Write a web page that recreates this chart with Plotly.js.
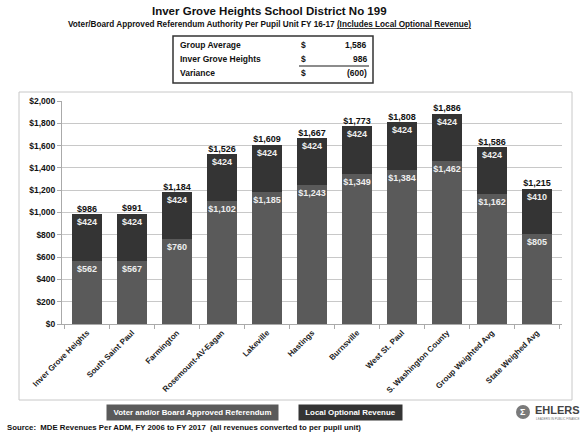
<!DOCTYPE html>
<html><head><meta charset="utf-8">
<script src="https://cdn.plot.ly/plotly-3.0.1.min.js"></script>
<style>html,body{margin:0;padding:0;background:#fff}#chart{width:584px;height:433px}</style>
</head><body><div id="chart"></div>
<script>
var categories = ["Inver Grove Heights","South Saint Paul","Farmington","Rosemount-AV-Eagan","Lakeville","Hastings","Burnsville","West St. Paul","S. Washington County","Group Weighted Avg","State Weighed Avg"];
var referendum = [562,567,760,1102,1185,1243,1349,1384,1462,1162,805];
var localOptional = [424,424,424,424,424,424,424,424,424,424,410];
var seriesNames = ["Voter and/or Board Approved Referendum","Local Optional Revenue"];
var tableLabels = ["Group Average","Inver Grove Heights","Variance"];
var tableValues = ["1,586","986","(600)"];
var yTicks = [0,200,400,600,800,1000,1200,1400,1600,1800,2000];

var W=584,H=433,L=62,R=22,T=101,B=109;
var PW=W-L-R, PH=H-T-B;
function px(x){return (x-L)/PW;}
function py(y){return (H-B-y)/PH;}
var totals = referendum.map(function(v,i){return v+localOptional[i];});
function money(v){return '$'+v.toLocaleString('en-US');}

var FONT='Arial, Liberation Sans, sans-serif';
var C1='#5a5a5a', C2='#343434';

var traces=[
 {type:'bar',name:seriesNames[0],x:categories,y:referendum,marker:{color:C1},
  text:referendum.map(money),textposition:'inside',insidetextanchor:'end',textangle:0,constraintext:'none',
  insidetextfont:{family:FONT,size:9,color:'#eeeeee',weight:700},hoverinfo:'none'},
 {type:'bar',name:seriesNames[1],x:categories,y:localOptional,marker:{color:C2},
  text:localOptional.map(money),textposition:'inside',insidetextanchor:'end',textangle:0,constraintext:'none',
  insidetextfont:{family:FONT,size:9,color:'#eeeeee',weight:700},hoverinfo:'none'},
 {type:'scatter',mode:'text',x:categories,y:totals,text:totals.map(money),textposition:'top center',
  textfont:{family:FONT,size:9,color:'#111',weight:700},hoverinfo:'none',showlegend:false,cliponaxis:false}
];

var shapes=[
 {type:'rect',xref:'paper',yref:'paper',x0:px(19),x1:px(572),y0:py(92),y1:py(400),line:{color:'#c8c8c8',width:1},layer:'below'},
 {type:'rect',xref:'paper',yref:'paper',x0:px(173),x1:px(373),y0:py(36),y1:py(83),line:{color:'#333',width:1.5}},
 {type:'line',xref:'paper',yref:'paper',x0:px(299),x1:px(369),y0:py(66),y1:py(66),line:{color:'#666',width:1.5}},
 {type:'circle',xref:'paper',yref:'paper',x0:px(516),x1:px(530),y0:py(405),y1:py(419),fillcolor:'#7a7a7a',line:{width:0}}
];

function ann(text,x,y,xa,font,extra){
 var a={text:text,xref:'paper',yref:'paper',x:px(x),y:py(y),xanchor:xa,yanchor:'middle',showarrow:false,font:font};
 if(extra){for(var k in extra){a[k]=extra[k];}}
 return a;
}
var annotations=[
 ann('Inver Grove Heights School District No 199',269,11,'center',{family:FONT,size:11.5,color:'#111',weight:700}),
 ann('Voter/Board Approved Referendum Authority Per Pupil Unit FY 16-17 <u>(Includes Local Optional Revenue)</u>',269,25,'center',{family:FONT,size:8.2,color:'#111',weight:700}),
 ann('Source:  MDE Revenues Per ADM, FY 2006 to FY 2017  (all revenues converted to per pupil unit)',5,427,'left',{family:FONT,size:7.8,color:'#111',weight:700}),
 ann(seriesNames[0],192.5,412.5,'center',{family:FONT,size:7.9,color:'#fff',weight:700},{bgcolor:C1,width:167,height:11,borderpad:2}),
 ann(seriesNames[1],350.5,412.5,'center',{family:FONT,size:7.9,color:'#fff',weight:700},{bgcolor:C2,width:99,height:11,borderpad:2}),
 ann('Σ',523,412,'center',{family:FONT,size:9,color:'#fff',weight:700}),
 ann('EHLERS',533,410,'left',{family:FONT,size:11,color:'#444',weight:700}),
 ann('LEADERS IN PUBLIC FINANCE',534,419,'left',{family:FONT,size:3,color:'#777'})
];
var rowY=[45,59,73];
tableLabels.forEach(function(lbl,i){
 var f={family:FONT,size:8.5,color:'#111',weight:700};
 annotations.push(ann(lbl,178,rowY[i],'left',f));
 annotations.push(ann('$',299,rowY[i],'left',f));
 annotations.push(ann(tableValues[i],369,rowY[i],'right',f));
});

var layout={
 width:W,height:H,margin:{l:L,r:R,t:T,b:B,pad:0},
 paper_bgcolor:'#fff',plot_bgcolor:'#fff',
 barmode:'stack',bargap:0.34,showlegend:false,
 xaxis:{tickangle:-45,tickfont:{family:FONT,size:8,color:'#222',weight:700},showline:true,linecolor:'#aaa',
  ticks:'outside',tickson:'boundaries',ticklen:4,tickcolor:'#aaa',showgrid:false,fixedrange:true},
 yaxis:{range:[0,2000],tickvals:yTicks,ticktext:yTicks.map(money),tickfont:{family:FONT,size:8.5,color:'#111',weight:700},
  showline:true,linecolor:'#aaa',ticks:'outside',ticklen:4,tickcolor:'#aaa',gridcolor:'#c8c8c8',gridwidth:1,zeroline:false,fixedrange:true},
 shapes:shapes,annotations:annotations,hovermode:false
};
Plotly.newPlot('chart',traces,layout,{displayModeBar:false,staticPlot:true});
</script></body></html>
